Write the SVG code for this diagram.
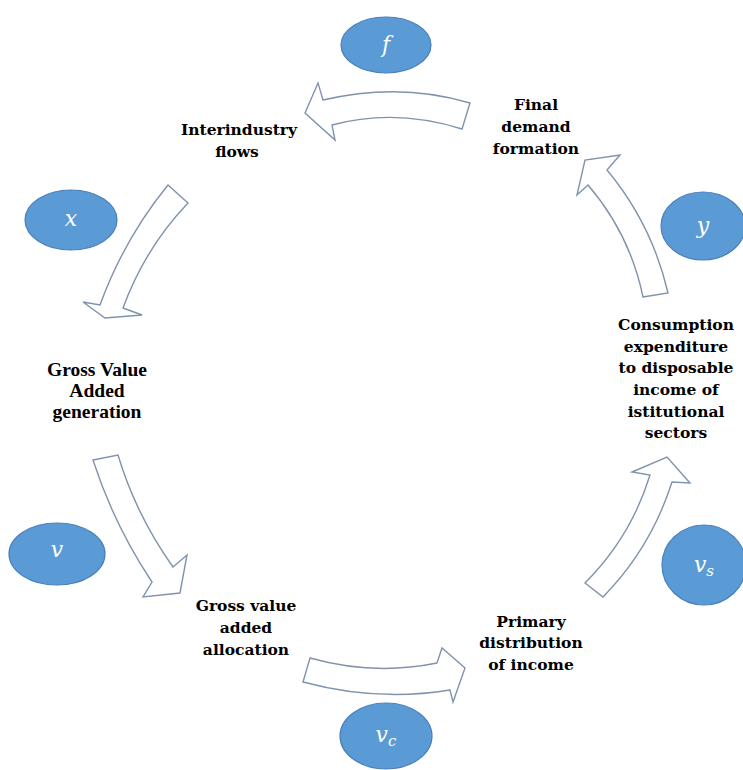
<svg xmlns="http://www.w3.org/2000/svg" width="743" height="770" viewBox="0 0 743 770">
  <style>
    .bg { fill: #ffffff; }
    .flow { fill: #ffffff; stroke: #7f93ad; stroke-width: 1.4; stroke-linejoin: miter; }
    .bubble { fill: #5b9bd5; stroke: #4a7fbb; stroke-width: 1.2; }
    .sym { font-family: "DejaVu Serif", "Liberation Serif", serif; font-style: italic; font-size: 22px; fill: #ffffff; text-anchor: middle; }
    .lbl { font-family: "DejaVu Serif", "Liberation Serif", serif; font-weight: bold; font-size: 15.5px; fill: #000000; text-anchor: middle; }
    .lbl-tnr { font-family: "Liberation Serif", "DejaVu Serif", serif; font-weight: bold; font-size: 19.5px; fill: #000000; text-anchor: middle; }
  </style>
  <rect class="bg" x="0" y="0" width="743" height="770"/>

  <!-- curved block arrows of the circular flow -->
  <g id="connectors">
    <path class="flow" d="M 470,103 Q 400,82 323,100 L 318,83 L 305,113 L 335,140 L 332,125 Q 395,108 462,129 Z"/>
    <path class="flow" d="M 168,185 L 188,203 Q 145,248 123,308 L 142,315 L 105,318 L 83,302 L 100,305 Q 124,239 168,185 Z"/>
    <path class="flow" d="M 93,460 L 118,455 Q 136,515 173,567 L 187,555 L 180,593 L 143,597 L 152,582 Q 114,525 93,460 Z"/>
    <path class="flow" d="M 310,658 Q 374,676 437,663 L 442,648 L 465,668 L 453,702 L 450,690 Q 377,702 303,682 Z"/>
    <path class="flow" d="M 585,583 Q 631,537 650,475 L 632,472 L 667,457 L 690,483 L 672,482 Q 651,548 603,597 Z"/>
    <path class="flow" d="M 643,297 L 668,293 Q 652,224 607,170 L 620,155 L 585,160 L 577,195 L 588,185 Q 630,234 643,297 Z"/>
  </g>

  <!-- variable bubbles -->
  <g id="node-f">
    <ellipse class="bubble" cx="386" cy="45" rx="45" ry="28"/>
    <text class="sym" x="386" y="52">f</text>
  </g>
  <g id="node-x">
    <ellipse class="bubble" cx="71" cy="220" rx="46" ry="30"/>
    <text class="sym" x="71" y="226">x</text>
  </g>
  <g id="node-y">
    <ellipse class="bubble" cx="703" cy="226" rx="42" ry="34"/>
    <text class="sym" x="703" y="233">y</text>
  </g>
  <g id="node-v">
    <ellipse class="bubble" cx="57" cy="554" rx="48" ry="31"/>
    <text class="sym" x="57" y="557">v</text>
  </g>
  <g id="node-vs">
    <ellipse class="bubble" cx="704" cy="565" rx="42" ry="40"/>
    <text class="sym" x="704" y="572">v<tspan font-size="15" dy="4">s</tspan></text>
  </g>
  <g id="node-vc">
    <ellipse class="bubble" cx="386" cy="736" rx="46" ry="33"/>
    <text class="sym" x="386" y="742">v<tspan font-size="15" dy="4">c</tspan></text>
  </g>

  <!-- stage labels -->
  <g id="label-interindustry">
    <text class="lbl" x="239" y="135">Interindustry</text>
    <text class="lbl" x="237" y="157">flows</text>
  </g>
  <g id="label-final-demand">
    <text class="lbl" x="536" y="110">Final</text>
    <text class="lbl" x="536" y="132">demand</text>
    <text class="lbl" x="536" y="154">formation</text>
  </g>
  <g id="label-gva-generation">
    <text class="lbl-tnr" x="97" y="376">Gross Value</text>
    <text class="lbl-tnr" x="97" y="397">Added</text>
    <text class="lbl-tnr" x="97" y="418">generation</text>
  </g>
  <g id="label-consumption">
    <text class="lbl" x="676" y="330">Consumption</text>
    <text class="lbl" x="676" y="352">expenditure</text>
    <text class="lbl" x="676" y="373">to disposable</text>
    <text class="lbl" x="676" y="395">income of</text>
    <text class="lbl" x="676" y="417">istitutional</text>
    <text class="lbl" x="676" y="438">sectors</text>
  </g>
  <g id="label-gva-allocation">
    <text class="lbl" x="246" y="611">Gross value</text>
    <text class="lbl" x="246" y="633">added</text>
    <text class="lbl" x="246" y="655">allocation</text>
  </g>
  <g id="label-primary-distribution">
    <text class="lbl" x="531" y="627">Primary</text>
    <text class="lbl" x="531" y="648">distribution</text>
    <text class="lbl" x="531" y="670">of income</text>
  </g>
</svg>
